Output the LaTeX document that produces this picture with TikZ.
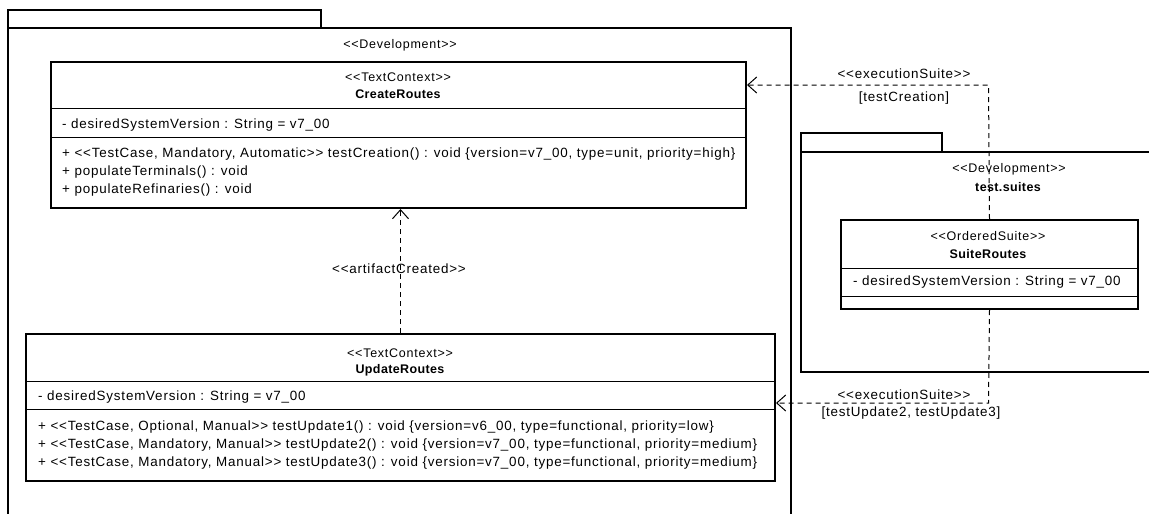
\documentclass[tikz,border=0pt]{standalone}
\usepackage{fontspec}
\usetikzlibrary{arrows.meta}
\newfontfamily\uml{Liberation Sans}[LetterSpace=6]
\newfontfamily\umlb{Liberation Sans Bold}[LetterSpace=3]
\newcommand{\stt}[1]{\textless\textless#1\textgreater\textgreater}
\begin{document}
\begin{tikzpicture}[x=1pt,y=-1pt,
  cls/.style={draw, line width=2pt, fill=white, inner sep=0pt, anchor=north west},
  pkg/.style={draw, line width=2pt},
  sepline/.style={line width=1pt},
  dep/.style={dash pattern=on 5pt off 4pt, line width=1pt, -{Straight Barb[length=9pt,width=16pt,line width=1pt]}},
  stereo/.style={font=\uml\fontsize{12.5}{14}\selectfont, inner sep=0pt},
  txt/.style={font=\uml\fontsize{13.4}{15}\selectfont, inner sep=0pt},
  clsname/.style={font=\umlb\fontsize{12.5}{14}\selectfont, inner sep=0pt},
  lft/.style={txt, anchor=west}]
\useasboundingbox (0,0) rectangle (1149,514);
\clip (0,0) rectangle (1149,514);
\fill[white] (0,0) rectangle (1149,514);
% left package
\draw[pkg] (8,28) -- (8,10) -- (321,10) -- (321,28);
\draw[pkg] (8,530) -- (8,28) -- (791,28) -- (791,530);
\node[stereo] (pkgA) at (400,45) {\stt{Development}};
% right package
\draw[pkg] (801,152) -- (801,133) -- (942,133) -- (942,152);
\draw[pkg] (1160,152) -- (801,152) -- (801,372) -- (1160,372);
\node[stereo] (pkgB) at (1009,169) {\stt{Development}};
\node[clsname] (pkgBn) at (1008,187) {test.suites};
% CreateRoutes
\node[cls, minimum width=695pt, minimum height=146pt] (cr) at (50,61) {};
\draw[sepline] (50,108) -- (745,108);
\draw[sepline] (50,137) -- (745,137);
\node[stereo] (crs) at (398,77) {\stt{TextContext}};
\node[clsname] (crn) at (398,94) {CreateRoutes};
\node[lft] (cra) at (62,125) {- desiredSystemVersion : String = v7\_00};
\node[lft] (crm1) at (62,154) {+ \stt{TestCase, Mandatory, Automatic} testCreation() : void \{version=v7\_00, type=unit, priority=high\}};
\node[lft] (crm2) at (62,172) {+ populateTerminals() : void};
\node[lft] (crm3) at (62,190) {+ populateRefinaries() : void};
% UpdateRoutes
\node[cls, minimum width=749pt, minimum height=147pt] (ur) at (25,333) {};
\draw[sepline] (25,381) -- (774,381);
\draw[sepline] (25,409) -- (774,409);
\node[stereo] (urs) at (400,353) {\stt{TextContext}};
\node[clsname] (urn) at (400,370) {UpdateRoutes};
\node[lft] (ura) at (38,397) {- desiredSystemVersion : String = v7\_00};
\node[lft] (urm1) at (38,427) {+ \stt{TestCase, Optional, Manual} testUpdate1() : void \{version=v6\_00, type=functional, priority=low\}};
\node[lft] (urm2) at (38,445) {+ \stt{TestCase, Mandatory, Manual} testUpdate2() : void \{version=v7\_00, type=functional, priority=medium\}};
\node[lft] (urm3) at (38,463) {+ \stt{TestCase, Mandatory, Manual} testUpdate3() : void \{version=v7\_00, type=functional, priority=medium\}};
% SuiteRoutes
\node[cls, minimum width=297pt, minimum height=89pt] (sr) at (840,219) {};
\draw[sepline] (840,268) -- (1137,268);
\draw[sepline] (840,296) -- (1137,296);
\node[stereo] (srs) at (988,236) {\stt{OrderedSuite}};
\node[clsname] (srn) at (988,254) {SuiteRoutes};
\node[lft] (sra) at (853,282) {- desiredSystemVersion : String = v7\_00};
% connectors
\coordinate (k1) at (988.5,85);
\coordinate (k2) at (988.5,403);
\draw[dep] (sr.north) -- (k1) -- (cr.east |- k1);
\draw[dep] (sr.south) -- (k2) -- (ur.east |- k2);
\draw[dep] (ur.north) -- (ur.north |- cr.south);
\node[txt] (l1a) at (904,74) {\stt{executionSuite}};
\node[txt] (l1b) at (904,98) {[testCreation]};
\node[txt] (l2a) at (904,395) {\stt{executionSuite}};
\node[txt] (l2b) at (911,413) {[testUpdate2, testUpdate3]};
\node[txt] (l3) at (399,269) {\stt{artifactCreated}};
\end{tikzpicture}
\end{document}
